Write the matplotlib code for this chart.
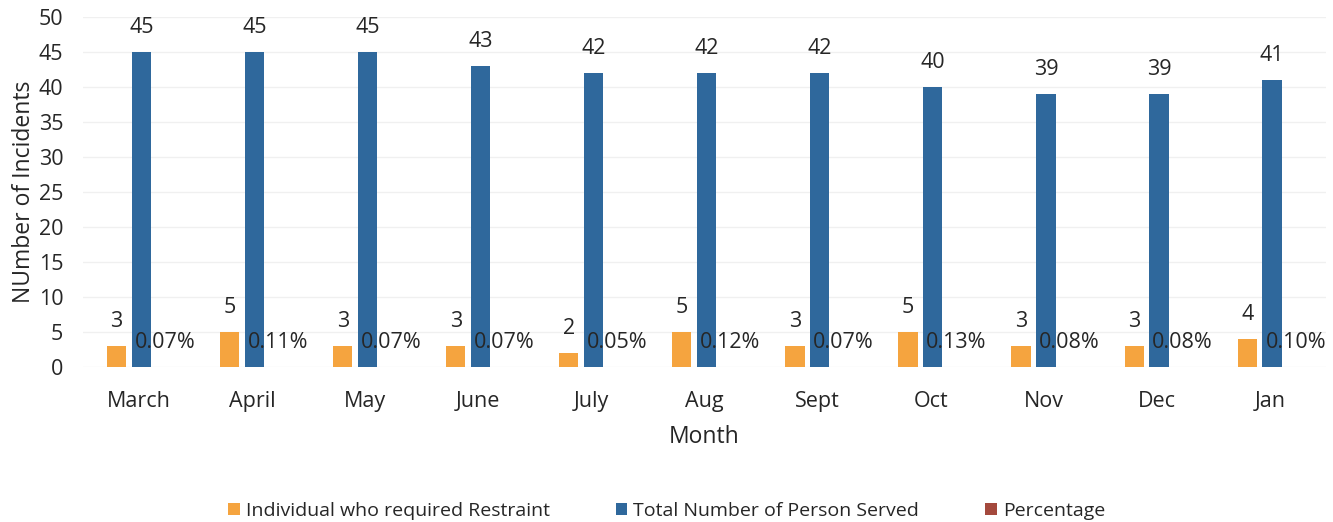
import numpy as np
import matplotlib.pyplot as plt

plt.rcParams['font.family'] = ['Open Sans', 'DejaVu Sans']

months = ['March', 'April', 'May', 'June', 'July', 'Aug', 'Sept', 'Oct', 'Nov', 'Dec', 'Jan']
restraint = [3, 5, 3, 3, 2, 5, 3, 5, 3, 3, 4]
served = [45, 45, 45, 43, 42, 42, 42, 40, 39, 39, 41]
# percentage values (shown as labels, bars are too small to see)
percentage = [0.07, 0.11, 0.07, 0.07, 0.05, 0.12, 0.07, 0.13, 0.08, 0.08, 0.10]

c_orange = '#F5A43F'
c_blue = '#2F689C'
c_red = '#A4493D'

fig = plt.figure(figsize=(13.33, 5.22), dpi=100)
ax = fig.add_axes([0.062, 0.297, 0.933, 0.670])

x = np.arange(len(months))
w = 0.17
b1 = ax.bar(x - 0.2, restraint, w, color=c_orange, label='Individual who required Restraint')
b2 = ax.bar(x + 0.02, served, w, color=c_blue, label='Total Number of Person Served')
b3 = ax.bar(x + 0.23, [p / 100 for p in percentage], w, color=c_red, label='Percentage')

for bars, labels in [(b1, [str(v) for v in restraint]),
                     (b2, [str(v) for v in served]),
                     (b3, ['%.2f%%' % p for p in percentage])]:
    for bar, lab in zip(bars, labels):
        ax.annotate(lab, (bar.get_x() + bar.get_width() / 2, bar.get_height()),
                    xytext=(0, 10), textcoords='offset points',
                    ha='center', va='bottom', fontsize=15.5, color='#262626')

ax.set_xlim(-0.5, len(months) - 0.5)
ax.set_ylim(0, 50)
ax.set_yticks(range(0, 51, 5))
ax.set_xticks(x)
ax.set_xticklabels(months)
ax.tick_params(length=0, labelsize=15.5, labelcolor='#262626')
ax.tick_params(axis='y', pad=14)
ax.tick_params(axis='x', pad=17)
for s in ax.spines.values():
    s.set_visible(False)
ax.yaxis.grid(True, color='#f0f0f0', linewidth=1)
ax.set_axisbelow(True)

ax.set_ylabel('NUmber of Incidents', fontsize=16.5, color='#262626', labelpad=2)
ax.set_xlabel('Month', fontsize=16.5, color='#262626', labelpad=10)

fig.legend(loc='lower center', bbox_to_anchor=(0.5, -0.03), ncol=3, frameon=False,
           fontsize=14, handlelength=0.6, handleheight=0.6, handletextpad=0.3,
           columnspacing=3.4, labelcolor='#262626')

fig.savefig('out.png')
